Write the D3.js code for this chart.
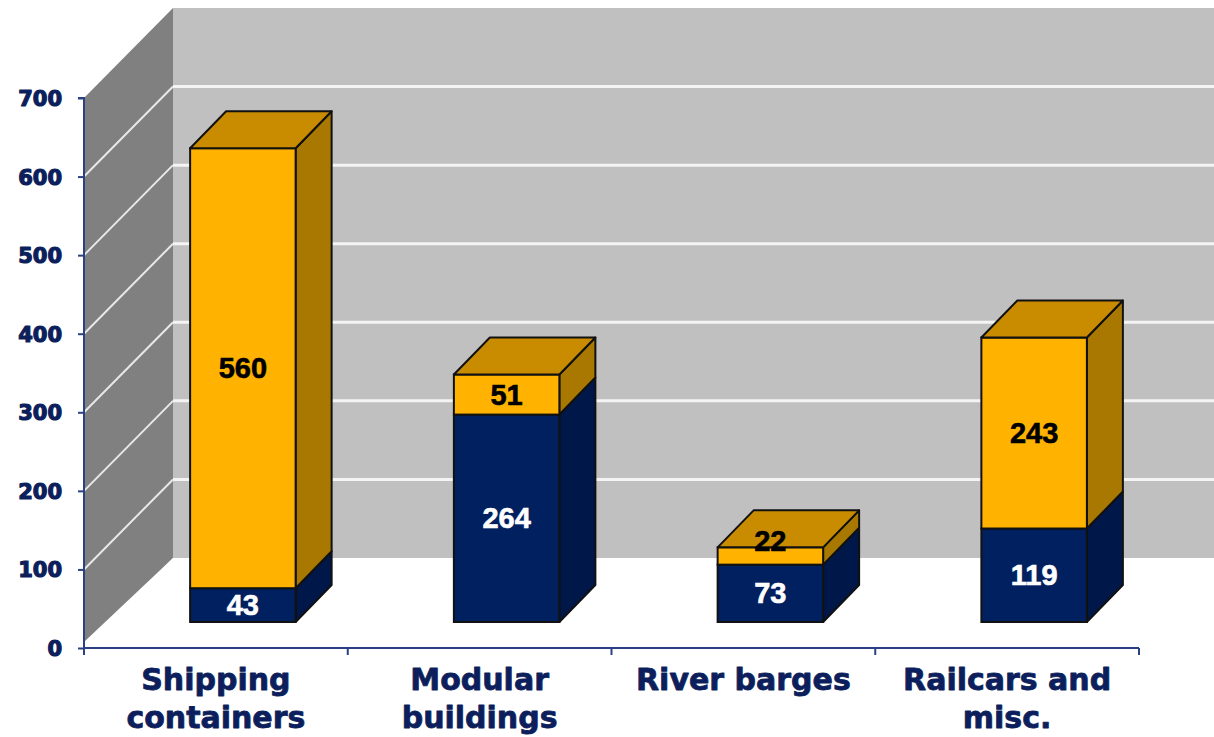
<!DOCTYPE html>
<html>
<head>
<meta charset="utf-8">
<script src="https://cdn.jsdelivr.net/npm/d3@7/dist/d3.min.js"></script>
<style>
  html, body { margin: 0; padding: 0; background: #ffffff; }
  svg { display: block; }
</style>
</head>
<body>
<svg id="chart" width="1214" height="737"></svg>
<script>
// ---- data ----
const categories = [["Shipping", "containers"], ["Modular", "buildings"], ["River barges"], ["Railcars and", "misc."]];
const categoryKeys = ["Shipping containers", "Modular buildings", "River barges", "Railcars and misc."];
const seriesBottom = [43, 264, 73, 119];   // navy segment
const seriesTop = [560, 51, 22, 243];      // gold segment
const yTicks = [0, 100, 200, 300, 400, 500, 600, 700];

// ---- layout ----
const W = 1214, H = 737;
const svg = d3.select("#chart");
const axisLeft = 84, axisRight = 1139, yBottom = 648, yTop = 98;
const wallDX = 89, wallDY = -90;       // depth of the chart box
const frontDX = 27, frontDY = -26;     // bar front plane offset
const barDX = 36, barDY = -37;         // bar depth

const x = d3.scaleBand().domain(categoryKeys).range([axisLeft, axisRight]).padding(0);
const y = d3.scaleLinear().domain([0, 700]).range([yBottom, yTop]);

const navyText = "#0c1f5c";
const axisColor = "#2a4283";

// back wall
svg.append("rect")
  .attr("x", axisLeft + wallDX).attr("y", y(700) + wallDY)
  .attr("width", W - (axisLeft + wallDX) + 5)
  .attr("height", y(0) - y(700))
  .attr("fill", "#c0c0c0");

// side wall
svg.append("polygon")
  .attr("points", [
    [axisLeft, y(700)], [axisLeft + wallDX, y(700) + wallDY],
    [axisLeft + wallDX, y(0) + wallDY], [axisLeft, y(0) - 6]
  ].map(p => p.join(",")).join(" "))
  .attr("fill", "#808080");

// gridlines on back wall and side wall
const gridVals = yTicks.filter(v => v > 0 && v < 700);
svg.append("g").selectAll("line.gb").data(gridVals).join("line")
  .attr("x1", axisLeft + wallDX).attr("x2", W + 5)
  .attr("y1", d => y(d) + wallDY).attr("y2", d => y(d) + wallDY)
  .attr("stroke", "#f4f4f4").attr("stroke-width", 3);
svg.append("g").selectAll("line.gs").data(gridVals).join("line")
  .attr("x1", axisLeft).attr("x2", axisLeft + wallDX)
  .attr("y1", d => y(d)).attr("y2", d => y(d) + wallDY)
  .attr("stroke", "#e8e8e8").attr("stroke-width", 2);

// floor (white)
svg.append("polygon")
  .attr("points", [
    [axisLeft + 2, y(0)], [axisLeft + wallDX, y(0) + wallDY],
    [W + 5, y(0) + wallDY], [W + 5, y(0)]
  ].map(p => p.join(",")).join(" "))
  .attr("fill", "#ffffff");

// ---- bars ----
const bw = x.bandwidth() * 0.4;
const colors = {
  bottom: { front: "#002060", side: "#00174a", top: "#0a2a70", text: "#ffffff" },
  top:    { front: "#ffb300", side: "#a87800", top: "#c98c00", text: "#000000" }
};
const stroke = "#111111";
const barsG = svg.append("g");

categoryKeys.forEach((key, i) => {
  const cx = x(key) + x.bandwidth() / 2 + frontDX;
  const x0 = cx - bw / 2, x1 = cx + bw / 2;
  const segs = [
    { lo: 0, hi: seriesBottom[i], c: colors.bottom, v: seriesBottom[i] },
    { lo: seriesBottom[i], hi: seriesBottom[i] + seriesTop[i], c: colors.top, v: seriesTop[i] }
  ];
  const g = barsG.append("g");
  segs.forEach((s, si) => {
    const yl = y(s.lo) + frontDY, yh = y(s.hi) + frontDY;
    // side face
    g.append("polygon")
      .attr("points", [[x1, yh], [x1 + barDX, yh + barDY], [x1 + barDX, yl + barDY], [x1, yl]].map(p => p.join(",")).join(" "))
      .attr("fill", s.c.side).attr("stroke", stroke).attr("stroke-width", 2).attr("stroke-linejoin", "round");
    // front face
    g.append("rect")
      .attr("x", x0).attr("y", yh).attr("width", bw).attr("height", yl - yh)
      .attr("fill", s.c.front).attr("stroke", stroke).attr("stroke-width", 2);
    // top face (only for top segment)
    if (si === segs.length - 1) {
      g.append("polygon")
        .attr("points", [[x0, yh], [x0 + barDX, yh + barDY], [x1 + barDX, yh + barDY], [x1, yh]].map(p => p.join(",")).join(" "))
        .attr("fill", s.c.top).attr("stroke", stroke).attr("stroke-width", 2).attr("stroke-linejoin", "round");
    }
  });
  segs.forEach(s => {
    const yl = y(s.lo) + frontDY, yh = y(s.hi) + frontDY;
    let ty = (yl + yh) / 2;
    if (yl - yh < 25) ty += barDY / 2 + 3;
    g.append("text")
      .attr("x", cx).attr("y", ty)
      .attr("text-anchor", "middle").attr("dominant-baseline", "central")
      .attr("font-family", "'Liberation Sans', Arial, sans-serif")
      .attr("font-weight", "bold").attr("font-size", 29)
      .attr("fill", s.c.text)
      .attr("stroke", s.c.text).attr("stroke-width", 0.6)
      .text(s.v);
  });
});

// ---- axes ----
const yAxis = d3.axisLeft(y).tickValues(yTicks).tickSize(6).tickPadding(16);
const yg = svg.append("g").attr("transform", `translate(${axisLeft},0)`).call(yAxis);
yg.select(".domain").attr("stroke", axisColor).attr("stroke-width", 2).attr("d", `M-6,${y(700)}H0V${y(0)}`);
yg.selectAll(".tick line").attr("stroke", axisColor).attr("stroke-width", 2);
yg.selectAll(".tick text")
  .attr("font-family", "'DejaVu Sans', Verdana, sans-serif")
  .attr("font-weight", "bold").attr("font-size", 21).attr("fill", navyText)
  .attr("stroke", navyText).attr("stroke-width", 1.2).attr("stroke-linejoin", "round")
  .attr("dy", "0.36em");

const xAxis = d3.axisBottom(x).tickSize(0).tickFormat("");
const xg = svg.append("g").attr("transform", `translate(0,${yBottom})`).call(xAxis);
xg.select(".domain").attr("stroke", axisColor).attr("stroke-width", 2).attr("d", `M${axisLeft},0H${axisRight}`);
// category separator ticks
const sepX = categoryKeys.map(k => x(k)).concat([axisRight]);
xg.selectAll("line.sep").data(sepX).join("line")
  .attr("class", "sep")
  .attr("x1", d => d).attr("x2", d => d).attr("y1", 0).attr("y2", 7)
  .attr("stroke", axisColor).attr("stroke-width", 2);

// category labels
const labG = svg.append("g");
categoryKeys.forEach((key, i) => {
  const t = labG.append("text")
    .attr("x", x(key) + x.bandwidth() / 2)
    .attr("y", 690)
    .attr("text-anchor", "middle")
    .attr("font-family", "'DejaVu Sans', Verdana, sans-serif")
    .attr("font-weight", "bold").attr("font-size", 30).attr("fill", navyText)
    .attr("stroke", navyText).attr("stroke-width", 0.8).attr("stroke-linejoin", "round");
  categories[i].forEach((line, li) => {
    t.append("tspan").attr("x", x(key) + x.bandwidth() / 2).attr("dy", li === 0 ? 0 : 38).text(line);
  });
});
</script>
</body>
</html>
